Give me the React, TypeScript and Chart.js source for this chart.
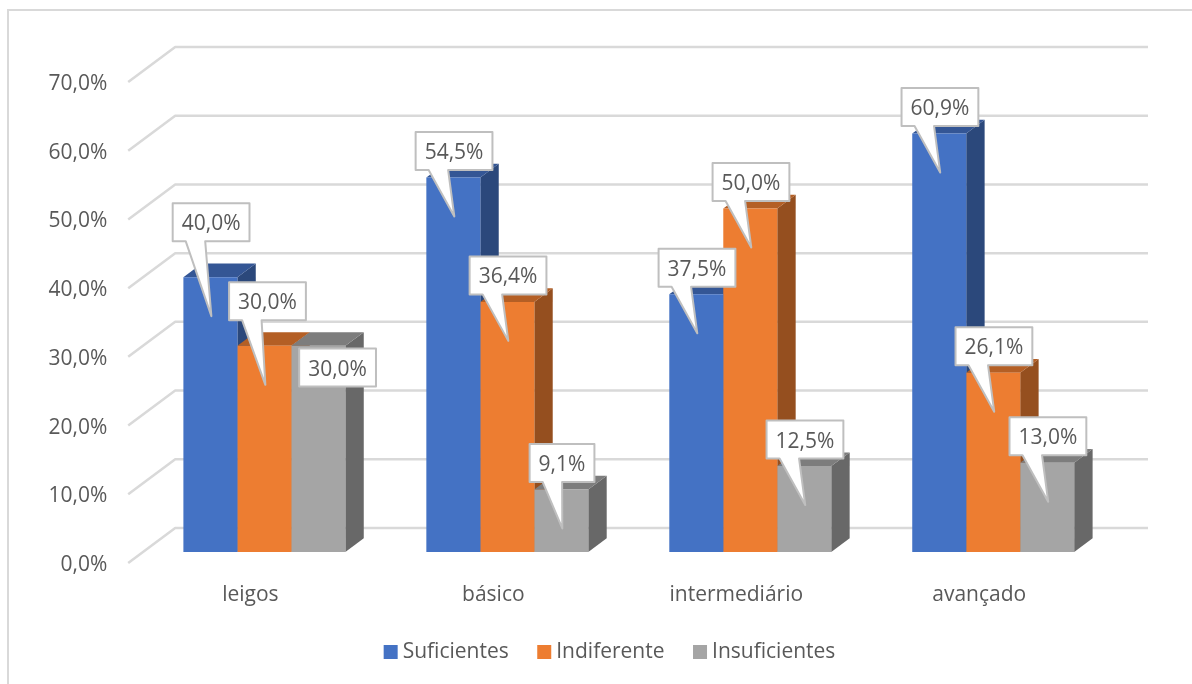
import { useEffect, useRef } from "react";
import { Chart, registerables } from "chart.js";

Chart.register(...registerables);

const categories = ["leigos", "básico", "intermediário", "avançado"];
const suficientes = [40.0, 54.5, 37.5, 60.9];
const indiferente = [30.0, 36.4, 50.0, 26.1];
const insuficientes = [30.0, 9.1, 12.5, 13.0];
const seriesNames = ["Suficientes", "Indiferente", "Insuficientes"];
const yTicksMax = 70;

const FONT_FAMILY = '"Open Sans", sans-serif';
const FONT_SIZE = 21;
const FONT = `${FONT_SIZE}px ${FONT_FAMILY}`;
const TEXT = "#595959";
const GRID = "#D9D9D9";

// Front, side and top shades of each series' prism.
const FRONT = ["#4472C4", "#ED7D31", "#A5A5A5"];
const SIDE = ["#2B487B", "#954F1F", "#686868"];
const TOP = ["#345695", "#B45F25", "#7D7D7D"];

// Prism depth, and the wall and floor offsets measured from the bar plane.
const DEPTH = { x: 18.4, y: -13.7 };
const WALL = { x: 32.3, y: -24 };
const FLOOR = { x: -14.7, y: 11 };

const fmt = (v: number) => v.toFixed(1).replace(".", ",") + "%";

// Callout box placement relative to its pointer tip; a few boxes sit apart from the rest.
const boxOffset = (ds: number, i: number) => {
  if (ds === 0 && i === 0) return { dx: -38.7, dy: -113 };
  if (ds === 1 && i === 0) return { dx: -36.3, dy: -102.7 };
  if (ds === 2 && i === 0) return { dx: -20.2, dy: -36.3 };
  if (ds === 2 && i === 1) return { dx: -32.7, dy: -84.5 };
  return { dx: -38.7, dy: -84.5 };
};

const scenery = {
  id: "scenery",
  beforeDraw(chart: any) {
    const { ctx, width, height } = chart;
    ctx.save();
    ctx.fillStyle = "#FFFFFF";
    ctx.fillRect(0, 0, width, height);
    ctx.strokeStyle = GRID;
    ctx.lineWidth = 2;
    ctx.beginPath();
    ctx.moveTo(8, height);
    ctx.lineTo(8, 10);
    ctx.lineTo(width, 10);
    ctx.stroke();
    ctx.restore();
  },
  beforeDatasetsDraw(chart: any) {
    const { ctx, chartArea, scales } = chart;
    ctx.save();
    // Back wall gridlines with their diagonal run across the floor side.
    ctx.strokeStyle = GRID;
    ctx.lineWidth = 2.5;
    ctx.lineJoin = "round";
    scales.y.ticks.forEach((t: any) => {
      const y = scales.y.getPixelForValue(t.value);
      ctx.beginPath();
      ctx.moveTo(chartArea.left + FLOOR.x, y + FLOOR.y);
      ctx.lineTo(chartArea.left + WALL.x, y + WALL.y);
      ctx.lineTo(chartArea.right + WALL.x + 1, y + WALL.y);
      ctx.stroke();
    });
    // Side and top faces, left to right, so each series covers its left neighbour's side.
    chart.data.labels.forEach((_: string, i: number) => {
      chart.data.datasets.forEach((_d: any, ds: number) => {
        const bar = chart.getDatasetMeta(ds).data[i];
        const half = bar.width / 2;
        const l = bar.x - half;
        const r = bar.x + half;
        const top = bar.y;
        const base = bar.base;
        ctx.fillStyle = SIDE[ds];
        ctx.beginPath();
        ctx.moveTo(r, top);
        ctx.lineTo(r + DEPTH.x, top + DEPTH.y);
        ctx.lineTo(r + DEPTH.x, base + DEPTH.y);
        ctx.lineTo(r, base);
        ctx.closePath();
        ctx.fill();
        ctx.fillStyle = TOP[ds];
        ctx.beginPath();
        ctx.moveTo(l, top);
        ctx.lineTo(l + DEPTH.x, top + DEPTH.y);
        ctx.lineTo(r + DEPTH.x, top + DEPTH.y);
        ctx.lineTo(r, top);
        ctx.closePath();
        ctx.fill();
      });
    });
    ctx.restore();
  },
  afterDatasetsDraw(chart: any) {
    const { ctx } = chart;
    ctx.save();
    ctx.font = FONT;
    ctx.textBaseline = "middle";
    // Value callouts.
    chart.data.datasets.forEach((d: any, ds: number) => {
      d.data.forEach((v: number, i: number) => {
        const bar = chart.getDatasetMeta(ds).data[i];
        const tipX = bar.x + 1;
        const tipY = bar.y + 39;
        const off = boxOffset(ds, i);
        const label = fmt(v);
        const w = ctx.measureText(label).width + 18;
        const h = 38;
        const x = tipX + off.dx;
        const y = tipY + off.dy;
        ctx.fillStyle = "#FFFFFF";
        ctx.strokeStyle = "#BFBFBF";
        ctx.lineWidth = 2;
        ctx.lineJoin = "round";
        ctx.beginPath();
        ctx.moveTo(x, y);
        ctx.lineTo(x + w, y);
        ctx.lineTo(x + w, y + h);
        if (tipY > y + h) {
          ctx.lineTo(x + 32.5, y + h);
          ctx.lineTo(tipX, tipY);
          ctx.lineTo(x + 13, y + h);
        }
        ctx.lineTo(x, y + h);
        ctx.closePath();
        ctx.fill();
        ctx.stroke();
        ctx.fillStyle = TEXT;
        ctx.textAlign = "center";
        ctx.fillText(label, x + w / 2, y + h / 2 + 2);
      });
    });
    // Legend row, centred under the plot.
    const gaps = chart.data.datasets.map((d: any) => 14 + 5 + ctx.measureText(d.label).width);
    const total = gaps.reduce((a: number, b: number) => a + b, 0) + 28.5 * 2;
    let cx = 609.5 - total / 2;
    ctx.textAlign = "left";
    chart.data.datasets.forEach((d: any, ds: number) => {
      ctx.fillStyle = FRONT[ds];
      ctx.fillRect(cx, 645, 14, 14);
      ctx.fillStyle = TEXT;
      ctx.fillText(d.label, cx + 19, 652);
      cx += gaps[ds] + 28.5;
    });
    ctx.restore();
  },
};

export default function App() {
  const ref = useRef<HTMLCanvasElement>(null);

  useEffect(() => {
    const chart = new Chart(ref.current!, {
      type: "bar",
      data: {
        labels: categories,
        datasets: [suficientes, indiferente, insuficientes].map((data, k) => ({
          label: seriesNames[k],
          data,
          backgroundColor: FRONT[k],
          categoryPercentage: 162 / 243,
          barPercentage: 1,
          borderWidth: 0,
        })),
      },
      options: {
        animation: false,
        responsive: false,
        layout: { autoPadding: false, padding: { left: 0, right: 77.3, top: 71, bottom: 0 } },
        plugins: { legend: { display: false }, tooltip: { enabled: false } },
        scales: {
          x: {
            afterFit: (s: any) => { s.height = 132; },
            grid: { display: false, drawTicks: false },
            border: { display: false },
            ticks: {
              color: TEXT,
              font: { family: FONT_FAMILY, size: FONT_SIZE },
              padding: 30.5,
              labelOffset: -14,
              maxRotation: 0,
              autoSkip: false,
            },
          },
          y: {
            min: 0,
            max: yTicksMax,
            afterFit: (s: any) => { s.width = 142.9; },
            grid: { display: false, drawTicks: false },
            border: { display: false },
            ticks: {
              stepSize: 10,
              color: TEXT,
              font: { family: FONT_FAMILY, size: FONT_SIZE },
              padding: 35.5,
              labelOffset: 13,
              callback: (v: any) => fmt(Number(v)),
            },
          },
        },
      },
      plugins: [scenery],
    });
    return () => chart.destroy();
  }, []);

  return (
    <canvas
      ref={ref}
      width={1192}
      height={684}
      style={{ position: "fixed", left: 0, top: 0, display: "block" }}
    />
  );
}
